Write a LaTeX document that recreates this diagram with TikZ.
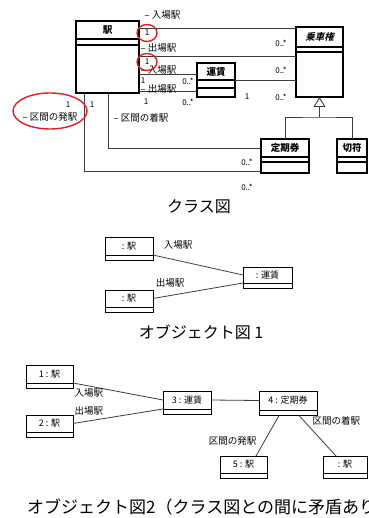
\documentclass[tikz,border=0pt]{standalone}
\usepackage{fontspec}
\setmainfont{Noto Sans CJK JP}[BoldItalicFont={* Bold}, BoldItalicFeatures={FakeSlant=0.25}]
\usetikzlibrary{arrows.meta,positioning}
\definecolor{ringred}{RGB}{230,30,35}
\definecolor{linegray}{RGB}{60,60,60}
\tikzset{
  clsname/.style 2 args={draw, line width=1.1pt, font=\fontsize{9.5}{10}\selectfont\bfseries,
                minimum width=#1, minimum height=#2, inner sep=0pt, outer sep=0pt},
  clspart/.style 2 args={draw, line width=1.1pt, minimum width=#1, minimum height=#2,
                inner sep=0pt, outer sep=0pt},
  objname/.style 2 args={draw, line width=1pt, font=\fontsize{9}{10}\selectfont,
                minimum width=#1, minimum height=#2, inner sep=0pt, outer sep=0pt},
  objpart/.style={draw, line width=1pt, minimum width=#1, minimum height=5.5,
                inner sep=0pt, outer sep=0pt},
  assoc/.style={draw=linegray, line width=0.8pt},
  role/.style={font=\fontsize{9.5}{10}\selectfont, inner sep=0.5pt},
  mult/.style={font=\fontsize{8}{9}\selectfont, inner sep=0.5pt},
  ring/.style={draw=ringred, line width=1.4pt},
  caption/.style={font=\fontsize{#1}{#1}\selectfont, inner sep=0pt},
}
\begin{document}
\begin{tikzpicture}[x=1pt, y=-1pt]
\useasboundingbox[fill=white] (0,0) rectangle (368,518);

% Class diagram: classes
\node[clsname={63}{18}, anchor=north west] (eki-name) at (76,21) {駅};
\node[clspart={63}{6}, below=0pt of eki-name] (eki-attr) {};
\node[clspart={63}{48}, below=0pt of eki-attr] (eki-op) {};

\node[clsname={47}{20}, anchor=north west] (jsk-name) at (296,27) {\itshape 乗車権};
\node[clspart={47}{5}, below=0pt of jsk-name] (jsk-attr) {};
\node[clspart={47}{45}, below=0pt of jsk-attr] (jsk-op) {};

\node[clsname={38}{17}, anchor=north west] (unchin-name) at (197,63) {運賃};
\node[clspart={38}{8}, below=0pt of unchin-name] (unchin-attr) {};
\node[clspart={38}{9}, below=0pt of unchin-attr] (unchin-op) {};

\node[clsname={48}{18}, anchor=north west] (teiki-name) at (261,139) {定期券};
\node[clspart={48}{5}, below=0pt of teiki-name] (teiki-attr) {};
\node[clspart={48}{11}, below=0pt of teiki-attr] (teiki-op) {};

\node[clsname={30}{18}, anchor=north west] (kippu-name) at (337,139) {切符};
\node[clspart={30}{5}, below=0pt of kippu-name] (kippu-attr) {};
\node[clspart={30}{11}, below=0pt of kippu-attr] (kippu-op) {};

% Class diagram: associations
\draw[assoc] (eki-name.east |- 0,28) -- (jsk-name.west |- 0,28);
\draw[assoc] (eki-op.east |- 0,56) -- (jsk-op.west |- 0,56);
\draw[assoc] (eki-op.east |- 0,74) -- (unchin-name.west |- 0,74);
\draw[assoc] (eki-op.east |- 0,91) -- (unchin-op.west |- 0,91);
\draw[assoc] (unchin-name.south east) -- (jsk-op.west |- 0,80);
\draw[assoc] (eki-op.south -| 84,0) |- (teiki-op.west |- 0,171);
\draw[assoc] (eki-op.south -| 108,0) |- (teiki-name.west);

% Generalization
\coordinate (gen) at (jsk-op.south |- 0,117);
\draw[assoc, line width=1.2pt, -{Triangle[open, fill=white, length=10pt, width=12pt, line width=0.9pt]}] (gen) -- (jsk-op.south);
\draw[assoc] (teiki-name.north) |- (gen) -| (kippu-name.north);

% Role names
\node[role, anchor=west] (r-in1) at (144,15) {– 入場駅};
\node[role, anchor=west] (r-out1) at (140,48) {– 出場駅};
\node[role, anchor=west] (r-in2) at (140,70) {– 入場駅};
\node[role, anchor=west] (r-out2) at (140,89) {– 出場駅};
\node[role, anchor=west] (r-from) at (22,117) {– 区間の発駅};
\node[role, anchor=west] (r-to) at (113,118) {– 区間の着駅};

% Multiplicities
\node[mult] (m-a1) at (147,33) {1};
\node[mult] (m-a2) at (281,43) {0..*};
\node[mult] (m-b1) at (147,62) {1};
\node[mult] (m-b2) at (281,70) {0..*};
\node[mult] (m-c1) at (143,80.5) {1};
\node[mult] (m-c2) at (188,81) {0..*};
\node[mult] (m-d1) at (146,102) {1};
\node[mult] (m-d2) at (188,102) {0..*};
\node[mult] (m-e1) at (247,97) {1};
\node[mult] (m-e2) at (281,97) {0..*};
\node[mult] (m-f1) at (68,105) {1};
\node[mult] (m-f2) at (247,187) {0..*};
\node[mult] (m-g1) at (92,105) {1};
\node[mult] (m-g2) at (247,162) {0..*};

% Red marks
\draw[ring] (147,33) ellipse [x radius=10, y radius=8.5];
\draw[ring] (147,62) ellipse [x radius=10, y radius=8.5];
\draw[ring] (50,111) ellipse [x radius=37, y radius=18];

\node[caption=16] (t-class) at (199,207) {クラス図};

% Object diagram 1
\node[objname={48}{18}, anchor=north west] (p1-name) at (105,237) {: 駅};
\node[objpart=48, below=0pt of p1-name] (p1-part) {};
\node[objname={48}{17}, anchor=north west] (p2-name) at (105,290) {: 駅};
\node[objpart=48, below=0pt of p2-name] (p2-part) {};
\node[objname={49}{16}, anchor=north west] (p3-name) at (243,267) {: 運賃};
\node[objpart=49, below=0pt of p3-name] (p3-part) {};

\draw[assoc] (p1-name.south east) -- (p3-name.west);
\draw[assoc] (p2-name.east) -- (p3-name.south west);
\node[role] (l-in1) at (178,245) {入場駅};
\node[role] (l-out1) at (170,283) {出場駅};

\node[caption=16] (t-obj1) at (201,332) {オブジェクト図 1};

% Object diagram 2
\node[objname={47}{18}, anchor=north west] (o1-name) at (26,365) {1 : 駅};
\node[objpart=47, below=0pt of o1-name] (o1-part) {};
\node[objname={47}{17}, anchor=north west] (o2-name) at (26,415) {2 : 駅};
\node[objpart=47, below=0pt of o2-name] (o2-part) {};
\node[objname={48}{18}, anchor=north west] (o3-name) at (163,391) {3 : 運賃};
\node[objpart=48, below=0pt of o3-name] (o3-part) {};
\node[objname={58}{19}, anchor=north west] (o4-name) at (259,391) {4 : 定期券};
\node[objpart=58, below=0pt of o4-name] (o4-part) {};
\node[objname={47}{17}, anchor=north west] (o5-name) at (220,456) {5 : 駅};
\node[objpart=47, below=0pt of o5-name] (o5-part) {};
\node[objname={44}{17}, anchor=north west] (o6-name) at (323,456) {: 駅};
\node[objpart=44, below=0pt of o6-name] (o6-part) {};

\draw[assoc] (o1-name.south east) -- (o3-name.west);
\draw[assoc] (o2-name.east) -- (o3-name.south west);
\draw[assoc] (o3-name.east) -- (o4-name.west);
\draw[assoc] ([xshift=-9pt]o4-part.south) -- ([xshift=12.5pt]o5-name.north);
\draw[assoc] ([xshift=11pt]o4-part.south) -- ([xshift=-9pt]o6-name.north);

\node[role, anchor=west] (l-in2) at (74,393) {入場駅};
\node[role, anchor=west] (l-out2) at (74,411) {出場駅};
\node[role, anchor=east] (l-from) at (257,441) {区間の発駅};
\node[role, anchor=west] (l-to) at (312,421) {区間の着駅};

\node[caption=17, anchor=west] (t-obj2) at (27,507) {オブジェクト図2（クラス図との間に矛盾あり};

\end{tikzpicture}
\end{document}
